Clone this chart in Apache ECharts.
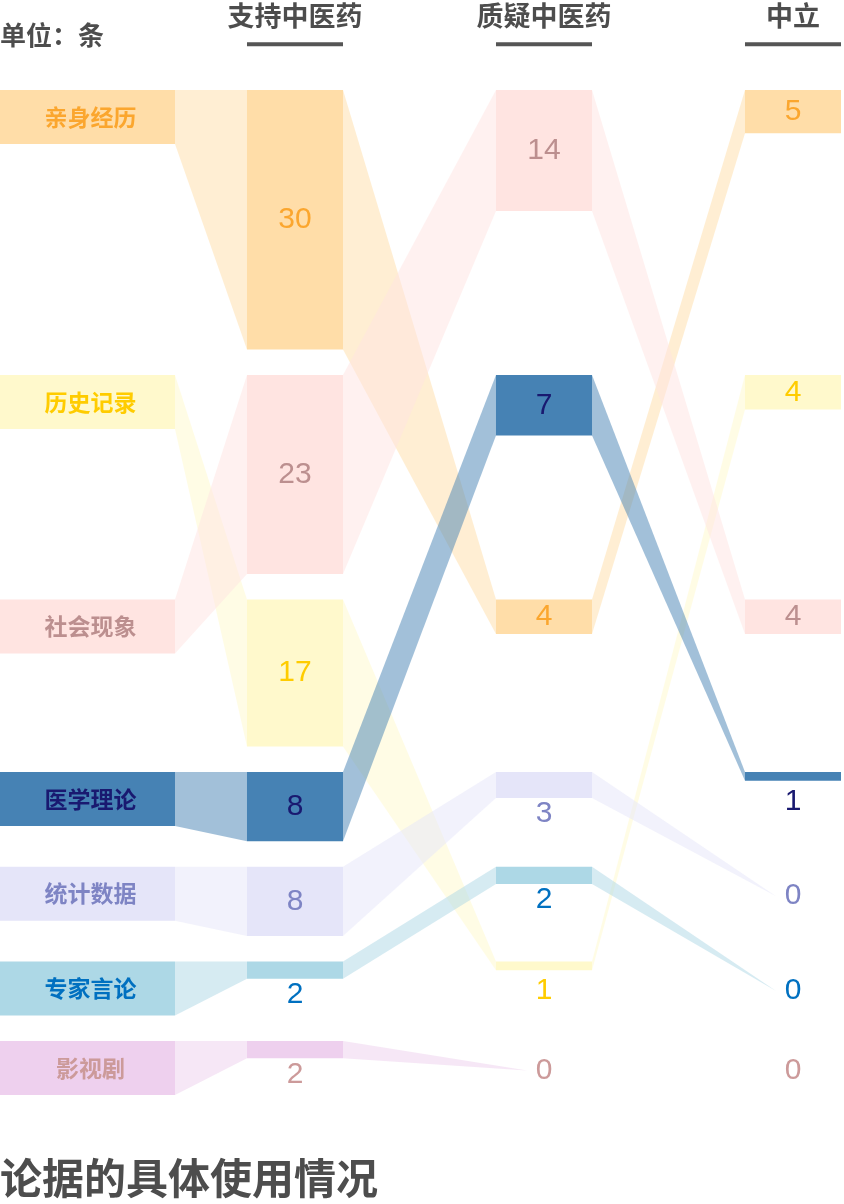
<!DOCTYPE html>
<html><head><meta charset="utf-8">
<script src="https://cdn.jsdelivr.net/npm/echarts@6/dist/echarts.min.js"></script>
<style>html,body{margin:0;padding:0;background:#fff}#c{width:844px;height:1204px}</style>
</head><body><div id="c"></div>
<script>
// ---- data ----
const categories = ['亲身经历','历史记录','社会现象','医学理论','统计数据','专家言论','影视剧'];
const supportValues = [30, 17, 23, 8, 8, 2, 2];
const questionValues = [4, 1, 14, 7, 3, 2, 0];
const neutralValues = [5, 4, 4, 1, 0, 0, 0];
const columnNames = ['支持中医药','质疑中医药','中立'];
const unitText = '单位：条';
const titleText = '论据的具体使用情况';

// ---- styles ----
const boxColors = ['#FFDDA8','#FFF9CC','#FFE4E1','#4682B4','#E5E5F9','#ADD8E6','#EED0EE'];
const textColors = ['#FBA62E','#FFCC00','#BC8F8F','#191970','#7E84C4','#0070C0','#CC9A9A'];
const headColor = '#4D4D4D';
const FONT = '"Liberation Sans", "Noto Sans CJK SC", sans-serif';
const CJK = '"Noto Sans CJK SC", sans-serif';

// ---- layout (axis units) ----
const PX_PER_UNIT = 8.65;
const Y_MIN = -10, Y_MAX = 120;
const LABEL_H = 6.24, ROW_GAP = 2.95;
const colX = [1/6, 1, 2, 3];
const colHalfW = [0.3514, 0.1928, 0.1928, 0.1928];
const TIP_OFF = 0.068, ZERO_DY = 3.4, BELOW_DY = 1.85;

function hexA(h, a){
  const n = parseInt(h.slice(1), 16);
  return 'rgba(' + ((n>>16)&255) + ',' + ((n>>8)&255) + ',' + (n&255) + ',' + a + ')';
}
const colValues = [null, supportValues, questionValues, neutralValues];
function rankOf(vals){
  const idx = vals.map((v,i)=>i).sort((a,b)=> vals[b]-vals[a] || a-b);
  const r = []; idx.forEach((k,row)=>{ r[k]=row; });
  return {idx, r};
}
const ranks = [null, rankOf(supportValues), rankOf(questionValues), rankOf(neutralValues)];
const rowTop = [0];
ranks[1].idx.forEach((k,i)=>{ rowTop[i+1] = rowTop[i] + Math.max(supportValues[k], LABEL_H) + ROW_GAP; });

function boxGeom(c, k){
  if (c === 0) return {top: rowTop[k], bottom: rowTop[k] + LABEL_H, v: 1};
  const top = rowTop[ranks[c].r[k]];
  const v = colValues[c][k];
  return {top, bottom: top + v, v};
}

// flows
const flowData = [];
for (let c = 0; c < 3; c++) {
  categories.forEach((name, k) => {
    const f = boxGeom(c, k), t = boxGeom(c+1, k);
    if (f.v === 0) return;
    let x2 = colX[c+1] - colHalfW[c+1], t1 = t.top, t2 = t.bottom;
    if (t.v === 0) { x2 = colX[c+1] - TIP_OFF; t1 = t2 = t.top + ZERO_DY; }
    flowData.push([c, k, colX[c] + colHalfW[c], f.top, f.bottom, x2, t1, t2]);
  });
}
// boxes
const boxData = [];
for (let c = 0; c < 4; c++) {
  categories.forEach((name, k) => {
    const g = boxGeom(c, k);
    boxData.push([c, k, colX[c] - colHalfW[c], g.top, colX[c] + colHalfW[c], g.bottom, c === 0 ? 0 : g.v]);
  });
}
const headData = columnNames.map((n, i) => [i + 1]);

const chart = echarts.init(document.getElementById('c'), null, {renderer: 'canvas'});
chart.setOption({
  animation: false,
  backgroundColor: '#fff',
  title: [
    {text: unitText, left: 0, top: 22, padding: 0,
     textStyle: {fontFamily: CJK, fontSize: 26, fontWeight: 'bold', color: headColor}},
    {text: titleText, left: 0, top: 1157, padding: 0,
     textStyle: {fontFamily: CJK, fontSize: 42, fontWeight: 'bold', color: headColor}}
  ],
  grid: {left: 46, right: 51, top: 90 + Y_MIN * PX_PER_UNIT, height: (Y_MAX - Y_MIN) * PX_PER_UNIT},
  xAxis: {type: 'value', min: 0, max: 3, show: false},
  yAxis: {type: 'value', min: Y_MIN, max: Y_MAX, inverse: true, show: false},
  series: [
    {
      type: 'custom', name: 'flows', silent: true, data: flowData,
      renderItem(params, api) {
        const k = api.value(1);
        const a = api.coord([api.value(2), api.value(3)]);
        const b = api.coord([api.value(5), api.value(6)]);
        const c2 = api.coord([api.value(5), api.value(7)]);
        const d = api.coord([api.value(2), api.value(4)]);
        return {type: 'polygon', shape: {points: [a, b, c2, d]}, style: {fill: hexA(boxColors[k], 0.5)}};
      }
    },
    {
      type: 'custom', name: 'boxes', silent: true, data: boxData,
      renderItem(params, api) {
        const c = api.value(0), k = api.value(1), v = api.value(6);
        const top = api.value(3), bottom = api.value(5);
        const p1 = api.coord([api.value(2), top]);
        const p2 = api.coord([api.value(4), bottom]);
        const children = [];
        if (p2[1] - p1[1] > 0.1) {
          children.push({type: 'rect', shape: {x: p1[0], y: p1[1], width: p2[0] - p1[0], height: p2[1] - p1[1]},
            style: {fill: boxColors[k]}});
        }
        const cx = (p1[0] + p2[0]) / 2;
        if (c === 0) {
          children.push({type: 'text', x: cx + 3, y: (p1[1] + p2[1]) / 2,
            style: {text: categories[k], fill: textColors[k], font: 'bold 23px ' + CJK, align: 'center', verticalAlign: 'middle'}});
        } else {
          let ty;
          if (v >= 4) ty = (p1[1] + p2[1]) / 2;
          else ty = api.coord([0, Math.max(bottom + BELOW_DY, top + ZERO_DY)])[1];
          children.push({type: 'text', x: cx, y: ty,
            style: {text: String(v), fill: textColors[k], font: '30px ' + FONT, align: 'center', verticalAlign: 'middle'}});
        }
        return {type: 'group', children};
      }
    },
    {
      type: 'custom', name: 'heads', silent: true, data: headData,
      renderItem(params, api) {
        const c = api.value(0);
        const t = api.coord([colX[c], -8.6]);
        const l = api.coord([colX[c] - colHalfW[c], -5.3]);
        const r = api.coord([colX[c] + colHalfW[c], -5.3]);
        return {type: 'group', children: [
          {type: 'text', x: t[0], y: t[1], style: {text: columnNames[c - 1], fill: headColor,
            font: 'bold 27px ' + CJK, align: 'center', verticalAlign: 'middle'}},
          {type: 'rect', shape: {x: l[0], y: l[1] - 2, width: r[0] - l[0], height: 4}, style: {fill: '#555555'}}
        ]};
      }
    }
  ]
});
</script></body></html>
